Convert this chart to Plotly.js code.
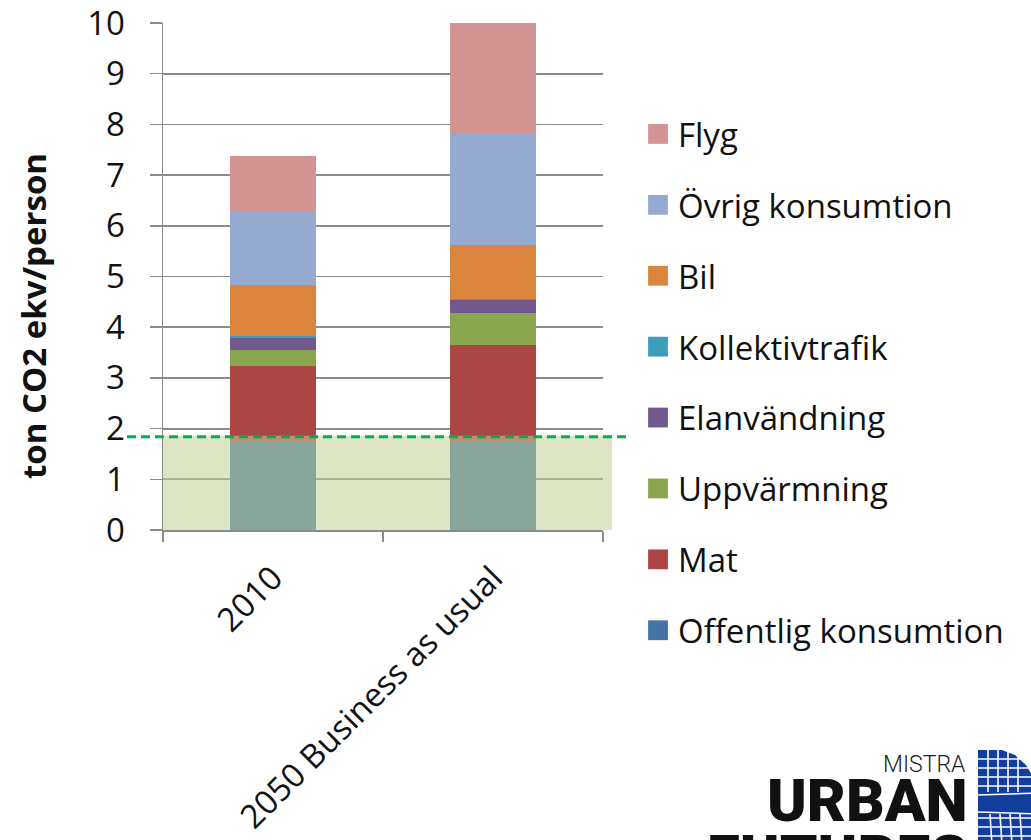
<!DOCTYPE html>
<html>
<head>
<meta charset="utf-8">
<script src="https://cdn.plot.ly/plotly-3.0.1.min.js"></script>
<style>
html,body{margin:0;padding:0;background:#fff;}
#chart{width:1031px;height:840px;}
</style>
</head>
<body>
<div id="chart"></div>
<script>
// ---- data ----
const categories = ["2010", "2050 Business as usual"];
const offentligKonsumtion = [1.75, 1.76];
const mat = [1.48, 1.89];
const uppvarmning = [0.33, 0.63];
const elanvandning = [0.23, 0.25];
const kollektivtrafik = [0.03, 0.02];
const bil = [1.01, 1.08];
const ovrigKonsumtion = [1.45, 2.20];
const flyg = [1.09, 2.19];
const target2050 = 1.84;
const yTickValues = [0,1,2,3,4,5,6,7,8,9,10];
const yTitle = "ton CO2 ekv/person";

const seriesNames = ["Offentlig konsumtion","Mat","Uppvärmning","Elanvändning","Kollektivtrafik","Bil","Övrig konsumtion","Flyg"];
const seriesValues = [offentligKonsumtion, mat, uppvarmning, elanvandning, kollektivtrafik, bil, ovrigKonsumtion, flyg];
const seriesColors = ["#4572A7","#AA4643","#89A54E","#71588F","#3C9EB8","#DB843D","#94AAD1","#D39392"];

const FONT = "'Open Sans', 'Noto Sans', sans-serif";

const traces = seriesNames.map((n, i) => ({
  type: "bar",
  name: n,
  x: categories,
  y: seriesValues[i],
  marker: {color: seriesColors[i], line: {width: 0}},
  legendgroup: "g" + i,
  legendrank: seriesNames.length - i,
  hoverinfo: "name+y"
}));

// plot area geometry (pixels) for decoration placement
const L = 163, R = 603, T = 23, B = 530;
const xp = px => (px - L) / (R - L);
const yp = py => (B - py) / (B - T);

const shapes = [
  {type: "rect", xref: "paper", yref: "y", x0: 0, x1: xp(612), y0: 0, y1: target2050 + 0.02,
   fillcolor: "rgba(191,210,148,0.55)", line: {width: 0}, layer: "above"},
  {type: "line", xref: "paper", yref: "y", x0: xp(127), x1: xp(628), y0: target2050, y1: target2050,
   line: {color: "#00B050", width: 3, dash: "9px,5px"}, layer: "above"}
];

// logo globe (decoration)
function P(pts){ return "M" + pts.map(p => xp(p[0]) + "," + yp(p[1])).join("L") + "Z"; }
shapes.push({type: "path", xref: "paper", yref: "paper",
  path: P([[978,750],[1002,750],[1015,755],[1026,765],[1034,778],[1040,800],[1040,845],[978,845]]),
  fillcolor: "#123F9E", line: {width: 0}});
const gridH = [759,768,777,786,818,827,836];
gridH.forEach(y => shapes.push({type: "line", xref: "paper", yref: "paper",
  x0: xp(978), x1: xp(1040), y0: yp(y), y1: yp(y), line: {color: "#fff", width: 1.6}}));
const gridV = [988,998,1008,1018];
gridV.forEach(x => shapes.push({type: "line", xref: "paper", yref: "paper",
  x0: xp(x), x1: xp(x), y0: yp(750), y1: yp(792), line: {color: "#fff", width: 1.6}}));
gridV.forEach(x => shapes.push({type: "line", xref: "paper", yref: "paper",
  x0: xp(x+2), x1: xp(x+4), y0: yp(814), y1: yp(845), line: {color: "#fff", width: 1.6}}));
shapes.push({type: "line", xref: "paper", yref: "paper", x0: xp(978), x1: xp(1040),
  y0: yp(795), y1: yp(793), line: {color: "#fff", width: 1.6}});
shapes.push({type: "line", xref: "paper", yref: "paper", x0: xp(978), x1: xp(1040),
  y0: yp(812), y1: yp(814), line: {color: "#fff", width: 1.6}});

const annotations = [
  {xref: "paper", yref: "paper", x: xp(33), y: yp(316), xanchor: "center", yanchor: "middle",
   text: yTitle, textangle: -90, showarrow: false,
   font: {family: FONT, size: 33, color: "#111", weight: "bold"}},
  {xref: "paper", yref: "paper", x: xp(968), y: yp(764), xanchor: "right", yanchor: "middle",
   text: "MISTRA", showarrow: false, font: {family: "Roboto, sans-serif", size: 23, color: "#222", weight: 300}},
  {xref: "paper", yref: "paper", x: xp(970), y: yp(801), xanchor: "right", yanchor: "middle",
   text: "URBAN", showarrow: false, font: {family: "Roboto, sans-serif", size: 60, color: "#111", weight: 900}},
  {xref: "paper", yref: "paper", x: xp(970), y: yp(856), xanchor: "right", yanchor: "middle",
   text: "FUTURES", showarrow: false, font: {family: "Roboto, sans-serif", size: 60, color: "#111", weight: 900}}
];

const layout = {
  width: 1031, height: 840,
  margin: {l: L, r: 1031 - R, t: T, b: 840 - B, pad: 0},
  paper_bgcolor: "#fff", plot_bgcolor: "#fff",
  barmode: "stack",
  bargap: 0.61,
  showlegend: true,
  legend: {
    x: xp(638), y: yp(106), xanchor: "left", yanchor: "top",
    traceorder: "grouped", tracegroupgap: 25,
    maxheight: 800,
    font: {family: FONT, size: 33, color: "#111"},
    itemclick: false, itemdoubleclick: false
  },
  xaxis: {
    type: "category",
    range: [-0.5, 1.5],
    showgrid: false,
    showline: true, linecolor: "#8C8C8C", linewidth: 1.5,
    ticks: "outside", tickson: "boundaries", ticklen: 10, tickcolor: "#8C8C8C", tickwidth: 1.5,
    tickangle: -45,
    ticklabelstandoff: 14,
    tickfont: {family: FONT, size: 33, color: "#111"},
    fixedrange: true
  },
  yaxis: {
    range: [0, 10],
    tickvals: yTickValues,
    showgrid: true, gridcolor: "#8C8C8C", gridwidth: 1.8,
    zeroline: false,
    showline: true, linecolor: "#8C8C8C", linewidth: 1.5,
    ticks: "outside", ticklen: 12, tickcolor: "#8C8C8C", tickwidth: 1.5,
    ticklabelstandoff: 18,
    ticklabeloverflow: "allow",
    tickfont: {family: FONT, size: 33, color: "#111"},
    fixedrange: true
  },
  shapes: shapes,
  annotations: annotations
};

Plotly.newPlot("chart", traces, layout, {staticPlot: true, displayModeBar: false}).then(gd => {
  // enlarge legend swatches to match reference
  gd.querySelectorAll(".legend .legendpoints path").forEach(p => {
    p.setAttribute("transform", "translate(20,0) scale(1.65)");
  });
});
</script>
</body>
</html>
